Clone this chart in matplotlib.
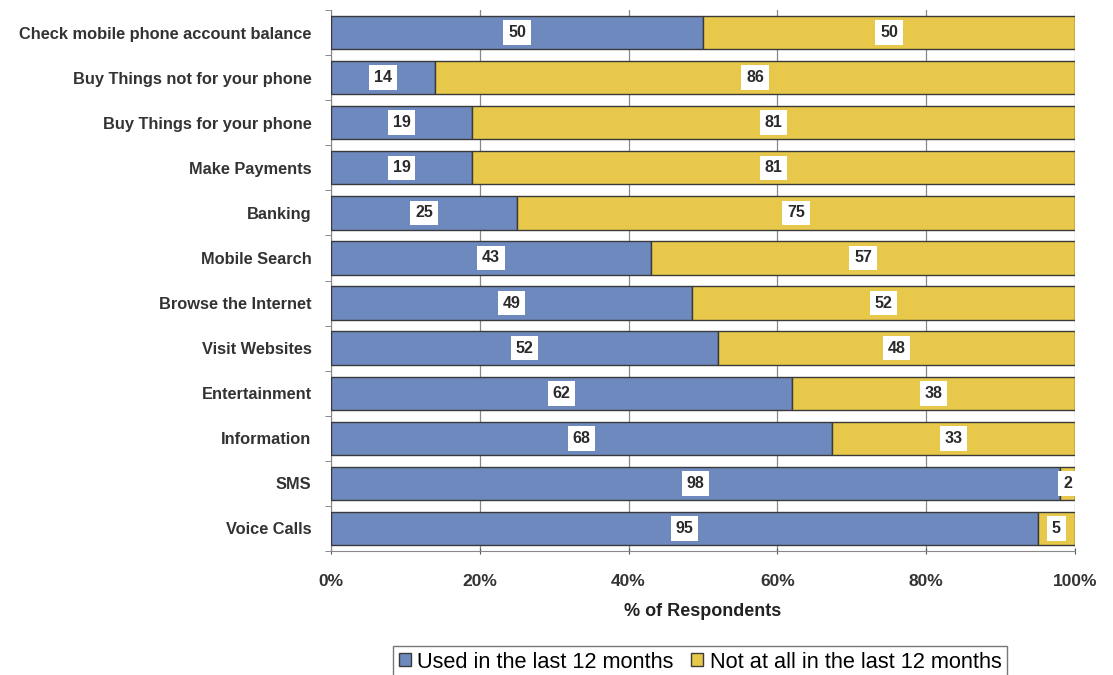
import matplotlib
matplotlib.use("Agg")
import matplotlib.pyplot as plt
import numpy as np

categories = ["Check mobile phone account balance", "Buy Things not for your phone",
              "Buy Things for your phone", "Make Payments", "Banking", "Mobile Search",
              "Browse the Internet", "Visit Websites", "Entertainment", "Information",
              "SMS", "Voice Calls"]
used = [50, 14, 19, 19, 25, 43, 49, 52, 62, 68, 98, 95]
not_used = [50, 86, 81, 81, 75, 57, 52, 48, 38, 33, 2, 5]
series_names = ["Used in the last 12 months", "Not at all in the last 12 months"]
xticks = [0, 0.2, 0.4, 0.6, 0.8, 1.0]
xticklabels = ["0%", "20%", "40%", "60%", "80%", "100%"]

plt.rcParams['font.family'] = ['Liberation Sans', 'DejaVu Sans']

blue = "#6E89BE"
yellow = "#E8C84A"
edge = "#3a3a3a"

fig = plt.figure(figsize=(11.13, 6.75), dpi=100)
ax = fig.add_axes([331/1113, 1-551/675, (1075-331)/1113, (551-10)/675])

u = np.array(used, float)
n = np.array(not_used, float)
tot = u + n
us = u / tot
ns = n / tot
y = np.arange(len(categories))[::-1]

h = 0.74
ax.barh(y, us, height=h, color=blue, edgecolor=edge, linewidth=1.0, label=series_names[0], zorder=3)
ax.barh(y, ns, left=us, height=h, color=yellow, edgecolor=edge, linewidth=1.0, label=series_names[1], zorder=3)

bb = dict(boxstyle="square,pad=0.3", facecolor="white", edgecolor="none")
for yi, a, b, ua, nb in zip(y, us, ns, used, not_used):
    ax.text(a/2, yi, str(ua), ha="center", va="center", fontsize=11.5, fontweight="bold",
            color="#2a2a2a", bbox=bb, zorder=5)
    ax.text(a + b/2, yi, str(nb), ha="center", va="center", fontsize=11.5, fontweight="bold",
            color="#2a2a2a", bbox=bb, zorder=5)

ax.set_xlim(0, 1)
ax.set_ylim(-0.5, len(categories)-0.5)
ax.set_xticks(xticks)
ax.set_xticklabels(xticklabels, fontsize=12.5, fontweight="bold", color="#333333")
ax.set_yticks(y)
ax.set_yticklabels(categories, fontsize=11.8, fontweight="bold", color="#333333")
ax.tick_params(axis="y", length=0, pad=14)
ax.set_yticks(np.arange(-0.5, len(categories), 1.0), minor=True)
ax.tick_params(axis="y", which="minor", length=4, color="#777777", direction="out")
ax.tick_params(axis="x", length=5, color="#555555", direction="inout", pad=14)
ax.grid(axis="x", color="#888888", linewidth=0.9, zorder=0)
for s in ["top", "right"]:
    ax.spines[s].set_visible(False)
ax.spines["left"].set_color("#888888")
ax.spines["bottom"].set_color("#888888")
ax.set_xlabel("% of Respondents", fontsize=13, fontweight="bold", color="#222222", labelpad=10)

leg = fig.legend(loc="center", bbox_to_anchor=(700/1113, 1-662/675), ncol=2, fontsize=15.7,
                 frameon=True, fancybox=False, edgecolor="#555555", handlelength=0.55,
                 handleheight=0.55, handletextpad=0.3, columnspacing=0.8, borderpad=0.25)
leg.get_frame().set_linewidth(1.0)

fig.savefig("out.png", dpi=100, facecolor="white")
